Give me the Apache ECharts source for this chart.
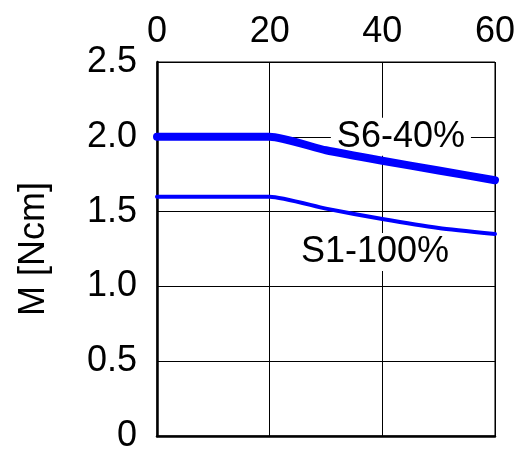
<!DOCTYPE html>
<html>
<head>
<meta charset="utf-8">
<script src="https://cdn.jsdelivr.net/npm/echarts@6/dist/echarts.min.js"></script>
<style>
html,body{margin:0;padding:0;background:#fff;}
#c{width:518px;height:454px;}
</style>
</head>
<body>
<div id="c"></div>
<script>
const xTicks = [0, 20, 40, 60];
const yTicks = [0, 0.5, 1.0, 1.5, 2.0, 2.5];
const xValues = [0, 20, 30, 40, 50, 60];
const s6Values = [2.0, 2.0, 1.91, 1.84, 1.775, 1.71];
const s1Values = [1.6, 1.6, 1.52, 1.45, 1.39, 1.35];
const seriesNames = ['S6-40%', 'S1-100%'];
const labelPos = [[43.3, 2.0], [38.7, 1.23]];

const font = 'Liberation Sans, Arial, sans-serif';
const chart = echarts.init(document.getElementById('c'), null, {renderer: 'canvas'});

function pairs(xs, ys) { return xs.map((x, i) => [x, ys[i]]); }

chart.setOption({
  animation: false,
  backgroundColor: '#fff',
  grid: {left: 157, right: 20, top: 62, bottom: 17, show: true, borderColor: '#000', borderWidth: 1, backgroundColor: 'transparent'},
  xAxis: [{
    type: 'value', position: 'top', min: xTicks[0], max: xTicks[xTicks.length - 1], interval: 20,
    axisLine: {show: true, lineStyle: {color: '#000', width: 1}},
    axisTick: {show: false},
    axisLabel: {fontFamily: font, fontSize: 36, color: '#000', margin: 12, formatter: v => xTicks.includes(v) ? String(v) : ''},
    splitLine: {show: true, lineStyle: {color: '#000', width: 1}}
  }, {
    type: 'value', position: 'bottom', min: 0, max: 60, interval: 20,
    axisLine: {show: true, onZero: false, lineStyle: {color: '#000', width: 2.5}},
    axisTick: {show: false}, axisLabel: {show: false}, splitLine: {show: false}
  }],
  yAxis: {
    type: 'value', min: yTicks[0], max: yTicks[yTicks.length - 1], interval: 0.5,
    name: 'M [Ncm]', nameLocation: 'middle', nameGap: 105, nameRotate: 90,
    nameTextStyle: {fontFamily: font, fontSize: 36, color: '#000'},
    axisLine: {show: true, lineStyle: {color: '#000', width: 2.5}},
    axisTick: {show: false},
    axisLabel: {fontFamily: font, fontSize: 36, color: '#000', margin: 20,
      formatter: v => v === 0 ? '0' : v.toFixed(1)},
    splitLine: {show: true, lineStyle: {color: '#000', width: 1}}
  },
  series: [{
    name: seriesNames[0], type: 'line', data: pairs(xValues, s6Values), showSymbol: false,
    lineStyle: {color: '#0000ff', width: 8, cap: 'round', join: 'round'}, smooth: 0.2, z: 3
  }, {
    name: seriesNames[1], type: 'line', data: pairs(xValues, s1Values), showSymbol: false,
    lineStyle: {color: '#0000ff', width: 4, cap: 'round', join: 'round'}, smooth: 0.2, z: 3
  }, {
    name: 'labels', type: 'scatter', z: 2, silent: true, symbolSize: 0,
    itemStyle: {opacity: 1, color: '#fff'},
    data: labelPos.map((p, i) => ({value: p, name: seriesNames[i]})),
    label: {
      show: true, position: 'inside', formatter: p => p.name, opacity: 1,
      fontFamily: font, fontSize: 36, color: '#000', textBorderWidth: 0,
      backgroundColor: '#fff', padding: [2, 6, 0, 6]
    }
  }]
});
</script>
</body>
</html>
